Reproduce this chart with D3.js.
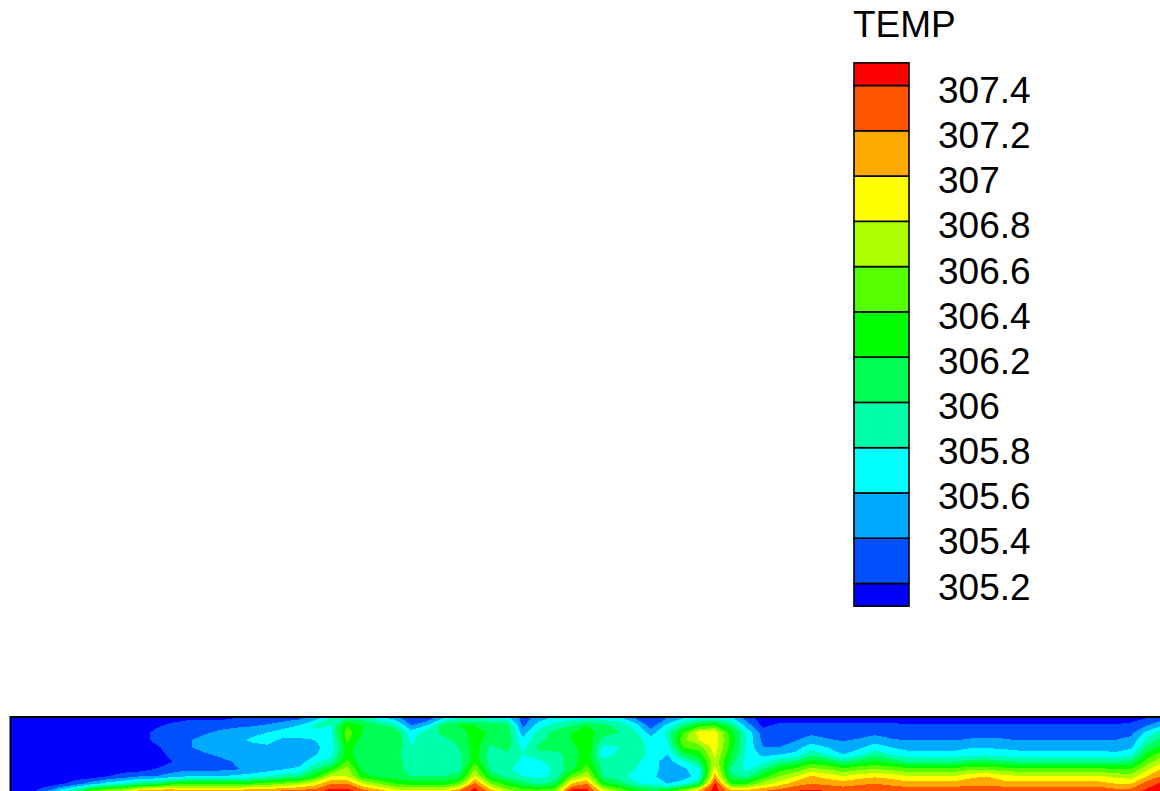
<!DOCTYPE html>
<html>
<head>
<meta charset="utf-8">
<script src="https://cdn.jsdelivr.net/npm/d3@7"></script>
<style>
    html, body { margin: 0; padding: 0; background: #fff; }
    svg { display: block; }
    text { font-family: "Liberation Sans", Arial, sans-serif; fill: #000; }
</style>
</head>
<body>
<svg id="chart" width="1160" height="791"></svg>
<script>
/* --------------------- DATA --------------------- */
let legendTitle = 'TEMP'
let levels = [305.2, 305.4, 305.6, 305.8, 306, 306.2, 306.4, 306.6, 306.8, 307, 307.2, 307.4]
let levelLabels = ['305.2', '305.4', '305.6', '305.8', '306', '306.2', '306.4', '306.6', '306.8', '307', '307.2', '307.4']
let legendEnds = [305.1, 307.5]
let bandColors = ['#0000ff', '#0050ff', '#00aaff', '#00ffff', '#00ffaa', '#00ff55', '#00ff00',
    '#55ff00', '#aaff00', '#ffff00', '#ffaa00', '#ff5500', '#ff0000']

// temperature, one list per column, top to bottom
let tempColumns = [
    [305.1,305.1,305.1,305.1,305.1,305.1,305.1,305.1,305.1,305.1,305.1],
    [305.1,305.1,305.1,305.1,305.1,305.1,305.1,305.1,305.1,305.1,305.1],
    [305.1,305.1,305.1,305.1,305.1,305.1,305.1,305.1,305.1,305.1,305.3],
    [305.1,305.1,305.1,305.1,305.1,305.1,305.1,305.1,305.1,305.15,305.7],
    [305.1,305.1,305.1,305.1,305.1,305.1,305.1,305.1,305.1,305.3,306],
    [305.1,305.1,305.1,305.1,305.1,305.1,305.1,305.1,305.1,305.5,306.5],
    [305.1,305.1,305.1,305.1,305.1,305.1,305.1,305.1,305.2,305.7,306.7],
    [305.1,305.1,305.1,305.1,305.1,305.1,305.1,305.1,305.3,305.8,306.8],
    [305.1,305.1,305.1,305.1,305.1,305.1,305.1,305.1,305.4,306,307.1],
    [305.1,305.15,305.25,305.25,305.15,305.1,305.1,305.2,305.4,306.1,307.2],
    [305.1,305.25,305.3,305.3,305.3,305.25,305.19,305.3,305.5,306.3,307.2],
    [305.15,305.3,305.3,305.35,305.35,305.3,305.3,305.35,305.6,306.4,307.1],
    [305.15,305.3,305.35,305.5,305.5,305.35,305.3,305.35,305.6,306.4,307.1],
    [305.15,305.3,305.45,305.5,305.5,305.45,305.3,305.35,305.6,306.4,307.1],
    [305.2,305.35,305.5,305.5,305.5,305.5,305.42,305.38,305.65,306.4,307.1],
    [305.2,305.38,305.5,305.65,305.5,305.5,305.5,305.45,305.7,306.4,307.2],
    [305.25,305.42,305.6,305.7,305.55,305.5,305.5,305.5,305.8,306.5,307.2],
    [305.3,305.5,305.7,305.55,305.5,305.5,305.5,305.58,305.9,306.6,307.25],
    [305.35,305.6,305.75,305.55,305.5,305.5,305.5,305.65,306,306.7,307.3],
    [305.5,305.85,305.75,305.6,305.55,305.58,305.75,306,306.3,306.9,307.3],
    [305.8,305.8,305.75,305.7,305.7,305.75,305.9,306.3,306.8,307.2,307.5],
    [306,306.4,306.5,306.45,306.3,306.3,306.45,306.7,306.8,307.2,307.5],
    [305.9,306.2,306.2,306.1,306.05,306.05,306.05,306.1,306.3,306.8,307.3],
    [305.7,306.05,306.15,306.1,306.05,306.05,306.05,306.05,306.15,306.6,307.1],
    [305.5,305.9,306.15,306.2,306.15,306.05,306.05,306.05,306.1,306.4,306.9],
    [305.25,305.4,305.7,305.75,305.8,305.9,305.95,305.95,306,306.3,306.9],
    [305.25,305.6,305.9,305.95,305.95,305.9,305.9,305.9,306,306.3,306.9],
    [305.6,306.1,306.05,305.95,305.95,305.9,305.95,305.9,306,306.3,306.9],
    [305.8,306.2,306.1,306.05,306,305.95,305.9,305.95,306.1,306.5,307.2],
    [305.8,306.2,306.3,306.3,306.3,306.3,306.35,306.6,306.85,307.25,307.5],
    [305.75,306.15,306.15,306.1,305.95,305.9,305.9,305.95,306.15,306.6,307.1],
    [305.7,306.1,306.15,306.1,306.1,305.95,305.9,305.85,305.95,306.3,306.7],
    [305.3,305.35,305.5,305.65,305.75,305.8,305.75,305.7,305.8,306.1,306.5],
    [305.5,305.7,305.9,305.95,306.05,305.95,305.75,305.65,305.75,305.95,306.5],
    [305.65,305.9,306.05,306.1,306.05,305.95,305.9,305.85,305.85,306.1,306.6],
    [305.7,306,306.2,306.2,306.1,306.05,306.1,306.1,306.5,307,307.5],
    [305.75,306.2,306.3,306.35,306.4,306.35,306.35,306.5,306.8,307.2,307.5],
    [305.7,306.05,306.1,305.95,305.75,305.7,305.9,305.95,306,306.3,306.9],
    [305.65,305.95,306,305.85,305.8,305.85,305.9,305.9,305.9,306.1,306.6],
    [305.4,305.7,305.85,305.9,305.9,305.9,305.85,305.8,305.7,305.85,306.3],
    [305.2,305.3,305.5,305.7,305.75,305.75,305.7,305.7,305.65,305.75,306.2],
    [305.4,305.65,305.85,305.8,305.7,305.6,305.5,305.5,305.5,305.6,306.3],
    [305.6,306,306.4,306.55,306.4,306.1,305.75,305.55,305.5,305.7,306.7],
    [305.7,306.3,306.9,306.8,306.5,306.3,306.05,305.75,305.7,306.1,307.1],
    [305.75,306.4,306.9,306.9,306.9,306.85,306.75,306.9,307.1,307.45,307.5],
    [305.65,306.05,306.3,306.35,306.3,306.2,306.1,305.95,306.05,306.4,307.1],
    [305.3,305.5,305.75,305.75,305.75,305.75,305.7,305.75,305.95,306.4,307.1],
    [305.1,305.15,305.3,305.35,305.4,305.55,305.75,306,306.3,306.7,307.2],
    [305.1,305.25,305.3,305.3,305.4,305.6,305.95,306.3,306.6,306.9,307.3],
    [305.1,305.25,305.3,305.38,305.5,305.65,306.05,306.45,306.8,307.1,307.4],
    [305.1,305.25,305.35,305.5,305.7,305.95,306.3,306.65,307.02,307.2,307.45],
    [305.1,305.25,305.33,305.42,305.6,305.8,306.2,306.6,306.92,307.15,307.4],
    [305.1,305.25,305.3,305.38,305.5,305.6,306,306.45,306.82,307.1,307.35],
    [305.1,305.25,305.32,305.42,305.55,305.75,306.15,306.55,306.92,307.15,307.4],
    [305.1,305.25,305.35,305.5,305.7,305.95,306.25,306.6,306.97,307.2,307.4],
    [305.1,305.25,305.32,305.42,305.6,305.8,306.15,306.55,306.92,307.15,307.35],
    [305.1,305.22,305.3,305.39,305.53,305.68,306,306.47,306.83,307.08,307.35],
    [305.1,305.22,305.3,305.39,305.53,305.68,306,306.47,306.83,307.08,307.35],
    [305.1,305.22,305.3,305.39,305.53,305.68,306,306.47,306.83,307.08,307.35],
    [305.1,305.22,305.3,305.39,305.53,305.68,306,306.47,306.83,307.08,307.35],
    [305.1,305.22,305.32,305.42,305.58,305.75,306.1,306.55,306.95,307.15,307.35],
    [305.1,305.22,305.32,305.42,305.58,305.75,306.12,306.55,307,307.15,307.35],
    [305.1,305.22,305.32,305.42,305.56,305.72,306.05,306.5,306.87,307.1,307.35],
    [305.1,305.22,305.3,305.39,305.53,305.68,306,306.47,306.83,307.08,307.35],
    [305.1,305.22,305.3,305.39,305.53,305.68,306,306.47,306.83,307.08,307.35],
    [305.1,305.22,305.3,305.39,305.53,305.68,306,306.47,306.83,307.08,307.35],
    [305.1,305.22,305.3,305.39,305.53,305.68,306,306.47,306.83,307.08,307.35],
    [305.1,305.22,305.3,305.39,305.53,305.68,306,306.47,306.83,307.08,307.35],
    [305.1,305.22,305.3,305.39,305.53,305.68,306,306.47,306.83,307.08,307.35],
    [305.1,305.22,305.3,305.4,305.5,305.65,306,306.4,306.75,307,307.3],
    [305.12,305.25,305.35,305.45,305.55,305.75,306.05,306.4,306.7,307,307.3],
    [305.2,305.4,305.65,305.85,306.05,306.25,306.5,306.75,307,307.3,307.45],
    [305.3,305.6,305.95,306.1,306.3,306.55,306.8,307.05,307.25,307.45,307.5],
]

/* --------------------- LEGEND --------------------- */
let svg = d3.select('#chart')

let legendY = d3.scaleLinear().domain([levels[0], levels[levels.length - 1]]).range([583.5, 85.5])
let labelY = d3.scaleLinear().domain([levels[0], levels[levels.length - 1]]).range([599, 102.5])
let legendEdges = [legendEnds[0], ...levels, legendEnds[1]]

svg.append('text')
    .attr('x', 853).attr('y', 37)
    .attr('font-size', 37)
    .text(legendTitle)

svg.append('g').selectAll('rect')
    .data(bandColors)
    .enter().append('rect')
    .attr('x', 854)
    .attr('width', 55)
    .attr('y', (d, i) => legendY(legendEdges[i + 1]))
    .attr('height', (d, i) => legendY(legendEdges[i]) - legendY(legendEdges[i + 1]))
    .attr('fill', d => d)
    .attr('stroke', '#000')
    .attr('stroke-width', 1.6)

let legendAxis = svg.append('g')
    .attr('transform', 'translate(938,0)')
    .call(d3.axisRight(labelY).tickValues(levels).tickSize(0).tickPadding(0)
        .tickFormat((d, i) => levelLabels[i]))
legendAxis.select('.domain').remove()
legendAxis.selectAll('text')
    .attr('dy', 0)
    .attr('font-size', 37)
    .attr('font-family', '"Liberation Sans", Arial, sans-serif')

/* --------------------- FIELD --------------------- */
let nCols = tempColumns.length
let nRows = tempColumns[0].length
let xGrid = d3.scaleLinear().domain([0, nCols - 1]).range([11, 1163])
let yGrid = d3.scaleLinear().domain([0, nRows - 1]).range([718, 791])

let flat = []
for (let r = 0; r < nRows; r++) {
    for (let c = 0; c < nCols; c++) flat.push(tempColumns[c][r])
}

let contours = d3.contours().size([nCols, nRows]).thresholds(levels)(flat)
// d3.contours puts grid values at cell centres, hence the 0.5
let toPixels = d3.geoTransform({
    point: function (x, y) { this.stream.point(xGrid(x - 0.5), yGrid(y - 0.5)) }
})
let path = d3.geoPath(toPixels)

svg.append('clipPath').attr('id', 'fieldClip')
    .append('rect').attr('x', 11).attr('y', 718).attr('width', 1149).attr('height', 73)

let field = svg.append('g').attr('clip-path', 'url(#fieldClip)')
field.append('rect')
    .attr('x', 11).attr('y', 718).attr('width', 1149).attr('height', 73)
    .attr('fill', bandColors[0])
field.selectAll('path')
    .data(contours)
    .enter().append('path')
    .attr('d', path)
    .attr('fill', (d, i) => bandColors[i + 1])
    .attr('shape-rendering', 'crispEdges')

svg.append('path')
    .attr('d', 'M1160,717H10.5V791')
    .attr('fill', 'none')
    .attr('stroke', '#000')
    .attr('stroke-width', 2)
</script>
</body>
</html>
